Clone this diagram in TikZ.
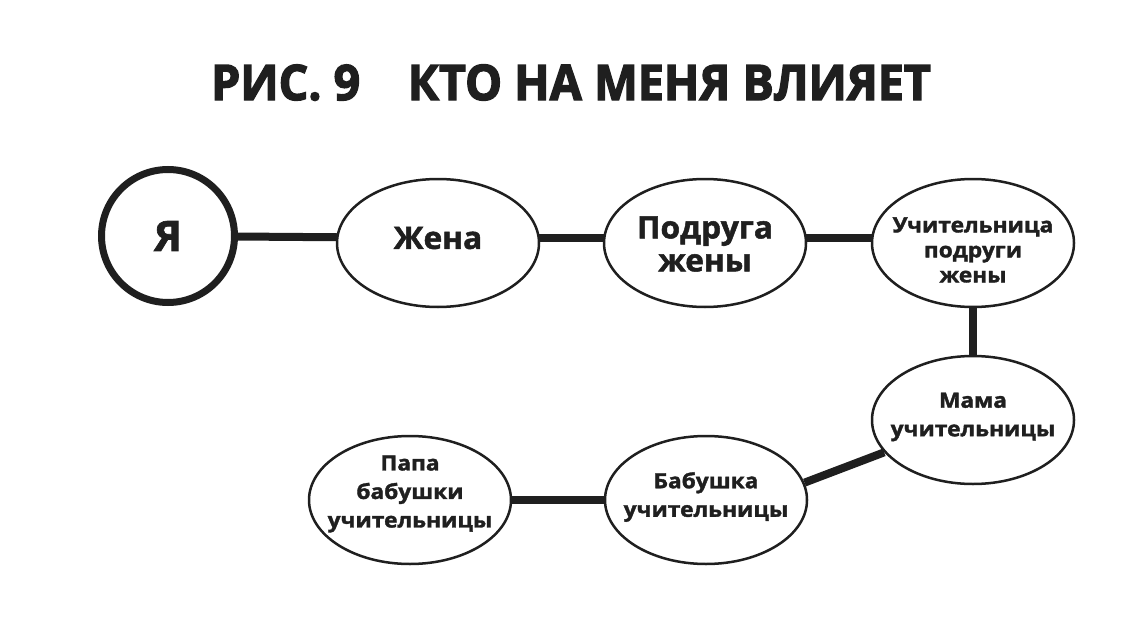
\documentclass[tikz,border=0pt]{standalone}
\usepackage{fontspec}
\setmainfont{Open Sans}
\newfontfamily\xbfam{Open Sans}[BoldFeatures={FakeBold=1.6}]
\newfontfamily\ttlfam{Open Sans}[BoldFeatures={FakeBold=2.8}]
\newcommand{\xbfont}{\xbfam\bfseries}
\newcommand{\ttlfont}{\ttlfam\bfseries}
\usetikzlibrary{shapes.geometric}
\pgfdeclarelayer{bg}
\pgfsetlayers{bg,main}
\colorlet{ink}{black!88}
\tikzset{
  oval/.style={ellipse, draw=ink, line width=2.5pt, fill=white, minimum width=202pt, minimum height=128pt, inner sep=0pt},
  small/.style={align=center, inner sep=0pt, text=ink, xscale=1.08, font=\xbfont\fontsize{21}{28.5}\selectfont},
  big/.style={align=center, inner sep=0pt, text=ink, xscale=1.02, font=\xbfont\fontsize{31}{33}\selectfont},
  mecircle/.style={circle, draw=ink, line width=7pt, fill=white, minimum size=133pt, inner sep=0pt, text=ink, font=\xbfont\fontsize{42}{42}\selectfont},
  link/.style={line width=8pt, draw=ink},
}
\begin{document}
\begin{tikzpicture}[x=1pt,y=-1pt]
\useasboundingbox (0,0) rectangle (1138,618);
\node[anchor=base, font=\ttlfont\fontsize{49}{49}\selectfont, text=ink, xscale=0.95] (title) at (571,100) {РИС. 9\hspace{50pt}КТО НА МЕНЯ ВЛИЯЕТ};
\node[mecircle] (me) at (168,236) {Я};
\node[oval] (wife) at (438,243) {};
\node[big] (wifet) at (438,238) {Жена};
\node[oval] (friend) at (705,243) {};
\node[big] (friendt) at (705,244) {Подруга\\жены};
\node[oval] (teacher) at (973,243) {};
\node[small, font=\xbfont\fontsize{21}{25}\selectfont] (teachert) at (973,250) {Учительница\\подруги\\жены};
\node[oval] (mom) at (973,420) {};
\node[small] (momt) at (973,417) {Мама\\учительницы};
\node[oval] (grandma) at (706,500) {};
\node[small] (grandmat) at (706,497) {Бабушка\\учительницы};
\node[oval] (papa) at (410,500) {};
\node[small] (papat) at (410,494) {Папа\\бабушки\\учительницы};
\begin{pgfonlayer}{bg}
\draw[link] (me.center) -- ([yshift=-2pt]me.center -| wife.center);
\draw[link] ([yshift=5pt]wife.center) -- ([yshift=5pt]teacher.center);
\draw[link] (teacher.center) -- (mom.center);
\draw[link] (grandma.10) -- (mom.200);
\draw[link] (papa.center) -- (grandma.center);
\end{pgfonlayer}
\end{tikzpicture}
\end{document}
